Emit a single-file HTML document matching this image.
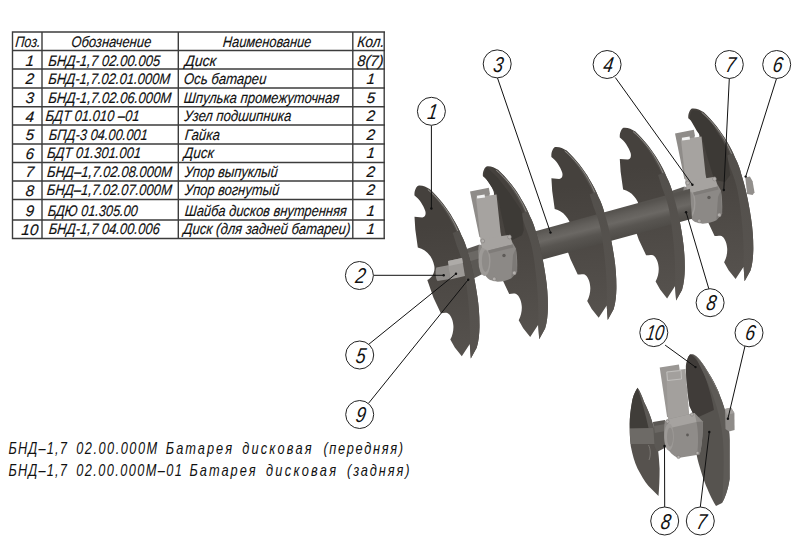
<!DOCTYPE html>
<html><head><meta charset="utf-8">
<style>
html,body{margin:0;padding:0;background:#fff;width:796px;height:543px;overflow:hidden}
svg{position:absolute;left:0;top:0;display:block}
text{font-family:"Liberation Sans",sans-serif;fill:#111}
.ti{font-style:italic;stroke:#111;stroke-width:0.15px}
.cap{font-style:italic}
.bn{font-style:italic}
</style></head><body>
<svg width="796" height="543" viewBox="0 0 796 543">
<path d="M12 32H385 M12 50.5H385 M12 69H385 M12 88H385 M12 106.7H385 M12 125H385 M12 144H385 M12 162.5H385 M12 181H385 M12 199.5H385 M12 220H385 M12 238.5H385 M12.5 31.3V239.2 M42 31.3V239.2 M178.3 31.3V239.2 M352.8 31.3V239.2 M384.2 31.3V239.2" stroke="#3c3c3c" stroke-width="1.4" fill="none"/>
<g transform="translate(15,46.7) skewX(-5)"><text class="ti" x="0" y="0" font-size="15.3" textLength="25.3" lengthAdjust="spacingAndGlyphs">Поз.</text></g>
<g transform="translate(71,46.7) skewX(-5)"><text class="ti" x="0" y="0" font-size="15.3" textLength="80" lengthAdjust="spacingAndGlyphs">Обозначение</text></g>
<g transform="translate(222.5,46.7) skewX(-5)"><text class="ti" x="0" y="0" font-size="15.3" textLength="88.5" lengthAdjust="spacingAndGlyphs">Наименование</text></g>
<g transform="translate(357,46.7) skewX(-5)"><text class="ti" x="0" y="0" font-size="15.3" textLength="27" lengthAdjust="spacingAndGlyphs">Кол.</text></g>
<g transform="translate(29.6,65.7) skewX(-5)"><text class="ti" x="0" y="0" font-size="15.3" text-anchor="middle">1</text></g>
<g transform="translate(47.9,66) skewX(-5)"><text class="ti" x="0" y="0" font-size="15.3" textLength="112" lengthAdjust="spacingAndGlyphs">БНД-1,7 02.00.005</text></g>
<g transform="translate(184.5,66) skewX(-5)"><text class="ti" x="0" y="0" font-size="15.3" textLength="31.5" lengthAdjust="spacingAndGlyphs">Диск</text></g>
<g transform="translate(357,66) skewX(-5)"><text class="ti" x="0" y="0" font-size="15.3" textLength="26" lengthAdjust="spacingAndGlyphs">8(7)</text></g>
<g transform="translate(29.6,84.1) skewX(-5)"><text class="ti" x="0" y="0" font-size="15.3" text-anchor="middle">2</text></g>
<g transform="translate(47.9,83.8) skewX(-5)"><text class="ti" x="0" y="0" font-size="15.3" textLength="122" lengthAdjust="spacingAndGlyphs">БНД-1,7.02.01.000М</text></g>
<g transform="translate(183.5,83.8) skewX(-5)"><text class="ti" x="0" y="0" font-size="15.3" textLength="82.5" lengthAdjust="spacingAndGlyphs">Ось батареи</text></g>
<g transform="translate(370.5,83.8) skewX(-5)"><text class="ti" x="0" y="0" font-size="15.3" text-anchor="middle">1</text></g>
<g transform="translate(29.6,102.5) skewX(-5)"><text class="ti" x="0" y="0" font-size="15.3" text-anchor="middle">3</text></g>
<g transform="translate(47.9,102.5) skewX(-5)"><text class="ti" x="0" y="0" font-size="15.3" textLength="123" lengthAdjust="spacingAndGlyphs">БНД-1,7.02.06.000М</text></g>
<g transform="translate(183.5,102.5) skewX(-5)"><text class="ti" x="0" y="0" font-size="15.3" textLength="155.5" lengthAdjust="spacingAndGlyphs">Шпулька промежуточная</text></g>
<g transform="translate(370.5,102.5) skewX(-5)"><text class="ti" x="0" y="0" font-size="15.3" text-anchor="middle">5</text></g>
<g transform="translate(29.6,121.6) skewX(-5)"><text class="ti" x="0" y="0" font-size="15.3" text-anchor="middle">4</text></g>
<g transform="translate(45.3,121.4) skewX(-5)"><text class="ti" x="0" y="0" font-size="15.3" textLength="94" lengthAdjust="spacingAndGlyphs">БДТ 01.010 –01</text></g>
<g transform="translate(184,121.4) skewX(-5)"><text class="ti" x="0" y="0" font-size="15.3" textLength="107" lengthAdjust="spacingAndGlyphs">Узел подшипника</text></g>
<g transform="translate(370.5,121.4) skewX(-5)"><text class="ti" x="0" y="0" font-size="15.3" text-anchor="middle">2</text></g>
<g transform="translate(29.6,140) skewX(-5)"><text class="ti" x="0" y="0" font-size="15.3" text-anchor="middle">5</text></g>
<g transform="translate(48.4,139.6) skewX(-5)"><text class="ti" x="0" y="0" font-size="15.3" textLength="99" lengthAdjust="spacingAndGlyphs">БПД-3 04.00.001</text></g>
<g transform="translate(184.5,139.6) skewX(-5)"><text class="ti" x="0" y="0" font-size="15.3" textLength="35" lengthAdjust="spacingAndGlyphs">Гайка</text></g>
<g transform="translate(370.5,139.6) skewX(-5)"><text class="ti" x="0" y="0" font-size="15.3" text-anchor="middle">2</text></g>
<g transform="translate(29.6,158.9) skewX(-5)"><text class="ti" x="0" y="0" font-size="15.3" text-anchor="middle">6</text></g>
<g transform="translate(46.7,157.5) skewX(-5)"><text class="ti" x="0" y="0" font-size="15.3" textLength="94" lengthAdjust="spacingAndGlyphs">БДТ  01.301.001</text></g>
<g transform="translate(183.5,157.5) skewX(-5)"><text class="ti" x="0" y="0" font-size="15.3" textLength="30" lengthAdjust="spacingAndGlyphs">Диск</text></g>
<g transform="translate(370.5,157.5) skewX(-5)"><text class="ti" x="0" y="0" font-size="15.3" text-anchor="middle">1</text></g>
<g transform="translate(29.6,176.8) skewX(-5)"><text class="ti" x="0" y="0" font-size="15.3" text-anchor="middle">7</text></g>
<g transform="translate(46.7,176.8) skewX(-5)"><text class="ti" x="0" y="0" font-size="15.3" textLength="125" lengthAdjust="spacingAndGlyphs">БНД–1,7.02.08.000М</text></g>
<g transform="translate(184.5,176.8) skewX(-5)"><text class="ti" x="0" y="0" font-size="15.3" textLength="93" lengthAdjust="spacingAndGlyphs">Упор выпуклый</text></g>
<g transform="translate(370.5,176.8) skewX(-5)"><text class="ti" x="0" y="0" font-size="15.3" text-anchor="middle">2</text></g>
<g transform="translate(29.6,195.7) skewX(-5)"><text class="ti" x="0" y="0" font-size="15.3" text-anchor="middle">8</text></g>
<g transform="translate(46.5,194.8) skewX(-5)"><text class="ti" x="0" y="0" font-size="15.3" textLength="125" lengthAdjust="spacingAndGlyphs">БНД–1,7.02.07.000М</text></g>
<g transform="translate(184.5,194.8) skewX(-5)"><text class="ti" x="0" y="0" font-size="15.3" textLength="94.5" lengthAdjust="spacingAndGlyphs">Упор вогнутый</text></g>
<g transform="translate(370.5,194.8) skewX(-5)"><text class="ti" x="0" y="0" font-size="15.3" text-anchor="middle">2</text></g>
<g transform="translate(29.6,215.9) skewX(-5)"><text class="ti" x="0" y="0" font-size="15.3" text-anchor="middle">9</text></g>
<g transform="translate(47.4,215.6) skewX(-5)"><text class="ti" x="0" y="0" font-size="15.3" textLength="90" lengthAdjust="spacingAndGlyphs">БДЮ  01.305.00</text></g>
<g transform="translate(184.5,215.6) skewX(-5)"><text class="ti" x="0" y="0" font-size="15.3" textLength="162" lengthAdjust="spacingAndGlyphs">Шайба дисков внутренняя</text></g>
<g transform="translate(370.5,215.6) skewX(-5)"><text class="ti" x="0" y="0" font-size="15.3" text-anchor="middle">1</text></g>
<g transform="translate(29.5,234.7) skewX(-5)"><text class="ti" x="0" y="0" font-size="15.3" text-anchor="middle">10</text></g>
<g transform="translate(48.4,234) skewX(-5)"><text class="ti" x="0" y="0" font-size="15.3" textLength="111" lengthAdjust="spacingAndGlyphs">БНД-1,7 04.00.006</text></g>
<g transform="translate(183,234) skewX(-5)"><text class="ti" x="0" y="0" font-size="15.3" textLength="167" lengthAdjust="spacingAndGlyphs">Диск (для задней батареи)</text></g>
<g transform="translate(370.5,234) skewX(-5)"><text class="ti" x="0" y="0" font-size="15.3" text-anchor="middle">1</text></g>
<g transform="scale(0.8,1)">
<text class="cap" x="10.62" y="454.0" font-size="16" textLength="72.88" lengthAdjust="spacing">БНД–1,7</text>
<text class="cap" x="95.25" y="454.0" font-size="16" textLength="101.25" lengthAdjust="spacing">02.00.000М</text>
<text class="cap" x="207.25" y="454.0" font-size="16" textLength="82.75" lengthAdjust="spacing">Батарея</text>
<text class="cap" x="302.87" y="454.0" font-size="16" textLength="86.50" lengthAdjust="spacing">дисковая</text>
<text class="cap" x="404.25" y="454.0" font-size="16" textLength="99.38" lengthAdjust="spacing">(передняя)</text>
<text class="cap" x="10.62" y="475.6" font-size="16" textLength="72.88" lengthAdjust="spacing">БНД–1,7</text>
<text class="cap" x="95.25" y="475.6" font-size="16" textLength="132.12" lengthAdjust="spacing">02.00.000М–01</text>
<text class="cap" x="236.88" y="475.6" font-size="16" textLength="82.75" lengthAdjust="spacing">Батарея</text>
<text class="cap" x="332.50" y="475.6" font-size="16" textLength="87.50" lengthAdjust="spacing">дисковая</text>
<text class="cap" x="433.75" y="475.6" font-size="16" textLength="78.12" lengthAdjust="spacing">(задняя)</text>
</g>
<defs>
<linearGradient id="dg" gradientUnits="userSpaceOnUse" x1="0" y1="40" x2="10" y2="165"><stop offset="0" stop-color="#45413d"/><stop offset="1" stop-color="#55514d"/></linearGradient>
<linearGradient id="rg" gradientUnits="userSpaceOnUse" x1="0" y1="20" x2="10" y2="165"><stop offset="0" stop-color="#524f4b"/><stop offset="1" stop-color="#57534f"/></linearGradient>
<path id="dk" d="M-3.8,9.5 C-4.3,5 -2,0.3 0,-0.3 C4,-0.8 8,1 11.3,3.1 C20,11 30,24 34,31.5 C38,38 41,44 43,49 C46,55 48,60 49.2,65.4 C51,71 53,78 54.2,84 C56,92 57.5,100 59,110 C60.5,120 61.3,130 61.2,141 C61,148 60.5,155 58.4,161.8 L52.5,172.5 L51.5,158 L43.5,170.3 L36.5,161.5 L32,153.5 C34.5,149 35.5,143 35,139 C34.5,133 32,128.5 29.5,127.2 C27,126.5 25,127 22.5,127.2 L15.2,111.7 L9,94 C14,92 17,86 16,80 C14.5,71 8,63.5 -0.5,61.5 L-3,43.5 L-3.8,30.8 L4,31.5 C6.5,31.5 8,29 7,25 C5,19 1,13 -3.8,9.5 Z" fill="url(#dg)"/>
<path id="rb" d="M11.3,3.1 C20,11 30,24 34,31.5 C38,38 41,44 43,49 C46,55 48,60 49.2,65.4 C51,71 53,78 54.2,84 C56,92 57.5,100 59,110 C60.5,120 61.3,130 61.2,141 C61,148 60.5,155 58.4,161.8 L52.5,172.5 L51.5,158 C52,145 51.5,125 48.6,102.6 C47.5,92 46,84 44.5,77.6 C42.5,70 40.5,65 38.4,59.5 L34.5,47 L38,45.5 C35,39 31,32 28,27 C24,20 17,11 9,3.5 Z" fill="url(#rg)"/>
<path id="hl" d="M9.5,3.5 C19,11.5 27,21.5 32.5,31 C35,35.5 37.5,40 39.5,45" stroke="#8e8b87" stroke-width="1" fill="none"/>
</defs>
<g transform="translate(692.1,108.8)"><use href="#dk"/><use href="#rb"/><use href="#hl"/></g>
<path d="M690,119 C690,114 691,111 692.6,110.3 C695,109.8 698,110.5 700.5,112 C704,116 709,120 712,124 C715,128 716,130 716.3,131.3 C720,137 723,141 725,145.3 C726.5,150 727.2,154 727.6,157.5 L730.3,175 L725,182 L716.3,180.3 L712.8,175 L707.5,157.5 L702.3,138.3 L697,131.3 Z" fill="#3c3935"/>
<g transform="translate(205,-58)">
<path d="M470,191.6 L488.8,187.8 L489.9,193.3 L482,238 L479.4,236.9 Z" fill="#8f8c89"/>
<path d="M476,197.2 L496.5,194.4 L500.5,232 L502,240 L481,244 Z" fill="#a6a3a0"/>
<path d="M476.8,195.8 L484.6,194.6 L485,197.6 L477.2,198.6 Z" fill="#f2f2f2"/>
<path d="M466.5,249 L479.5,244.5 L482.5,274 L471.5,279.5 Z" fill="#5b5854"/>
<path d="M467.5,253 L480,249.5 L480.8,258 L469,261.5 Z" fill="#6b6864"/>
<path d="M478.8,245.1 C477.5,252 478.5,262 482.8,271.4 C485,275 487,278 490,280 L497.7,281.7 C503,281.5 508,280 511.4,278.2 L517.1,271.4 C517.5,262 517,254 515.9,248.5 L511.4,240.6 Z" fill="#8c8986"/>
<ellipse cx="484.5" cy="261" rx="6" ry="15" fill="#9d9a97"/>
<ellipse cx="485.5" cy="261" rx="3.6" ry="11" fill="#8e8b88"/>
<path d="M480,239.4 L510.2,234.8 L512.5,244.5 L488,250.5 L482,247.5 Z" fill="#a6a3a0"/>
<path d="M488,250.5 L512.5,244.5 L513.5,247.5 L489,253.5 Z" fill="#7f7c79"/>
<path d="M515.9,248.5 L517.1,271.4 L511.4,278.2 L513,255 Z" fill="#7c7976"/>
<circle cx="482.8" cy="241" r="1.9" fill="#b2afac" stroke="#7a7774" stroke-width="0.5"/>
<circle cx="494.2" cy="279" r="1.9" fill="#b2afac" stroke="#7a7774" stroke-width="0.5"/>
<circle cx="514.3" cy="273" r="1.9" fill="#b2afac" stroke="#7a7774" stroke-width="0.5"/>
<circle cx="509.5" cy="237" r="1.9" fill="#b2afac" stroke="#7a7774" stroke-width="0.5"/>
<circle cx="504" cy="255.5" r="1.7" fill="#5e5b58"/>
</g>
<path d="M745.3,177.5 L749.9,176.6 L752.6,181.2 L754.5,192.2 L752.6,195 L747.1,194 Z" fill="#928f8c"/>
<g transform="translate(623.6,128.1)"><use href="#dk"/></g>
<g transform="translate(555.2,147.4)"><use href="#dk"/></g>
<linearGradient id="sg" gradientUnits="userSpaceOnUse" x1="600" y1="214.5" x2="607.5" y2="244.5"><stop offset="0" stop-color="#56534f"/><stop offset="0.2" stop-color="#63605c"/><stop offset="0.38" stop-color="#6b6864"/><stop offset="0.6" stop-color="#585551"/><stop offset="1" stop-color="#4b4844"/></linearGradient>
<path d="M520,235.4 L690,188.7 L692,218.7 L522,265.2 Z" fill="url(#sg)"/>
<g transform="translate(555.2,147.4)"><use href="#rb"/><use href="#hl"/></g>
<g transform="translate(623.6,128.1)"><use href="#rb"/><use href="#hl"/></g>
<g transform="translate(486.7,166.7)"><use href="#dk"/><use href="#rb"/><use href="#hl"/></g>
<path d="M484,175.8 L492.3,188 L497.5,195 L501,212.5 L506.3,237 L511.5,240.5 L522,235.3 L523.8,230 L522,212.5 L520.3,209 L509.8,193.3 L497.5,177.5 L486.5,167 Z" fill="#3d3a36"/>
<g transform="translate(0,0)">
<path d="M470,191.6 L488.8,187.8 L489.9,193.3 L482,238 L479.4,236.9 Z" fill="#8f8c89"/>
<path d="M476,197.2 L496.5,194.4 L500.5,232 L502,240 L481,244 Z" fill="#a6a3a0"/>
<path d="M476.8,195.8 L484.6,194.6 L485,197.6 L477.2,198.6 Z" fill="#f2f2f2"/>
<path d="M466.5,249 L479.5,244.5 L482.5,274 L471.5,279.5 Z" fill="#5b5854"/>
<path d="M467.5,253 L480,249.5 L480.8,258 L469,261.5 Z" fill="#6b6864"/>
<path d="M478.8,245.1 C477.5,252 478.5,262 482.8,271.4 C485,275 487,278 490,280 L497.7,281.7 C503,281.5 508,280 511.4,278.2 L517.1,271.4 C517.5,262 517,254 515.9,248.5 L511.4,240.6 Z" fill="#8c8986"/>
<ellipse cx="484.5" cy="261" rx="6" ry="15" fill="#9d9a97"/>
<ellipse cx="485.5" cy="261" rx="3.6" ry="11" fill="#8e8b88"/>
<path d="M480,239.4 L510.2,234.8 L512.5,244.5 L488,250.5 L482,247.5 Z" fill="#a6a3a0"/>
<path d="M488,250.5 L512.5,244.5 L513.5,247.5 L489,253.5 Z" fill="#7f7c79"/>
<path d="M515.9,248.5 L517.1,271.4 L511.4,278.2 L513,255 Z" fill="#7c7976"/>
<circle cx="482.8" cy="241" r="1.9" fill="#b2afac" stroke="#7a7774" stroke-width="0.5"/>
<circle cx="494.2" cy="279" r="1.9" fill="#b2afac" stroke="#7a7774" stroke-width="0.5"/>
<circle cx="514.3" cy="273" r="1.9" fill="#b2afac" stroke="#7a7774" stroke-width="0.5"/>
<circle cx="509.5" cy="237" r="1.9" fill="#b2afac" stroke="#7a7774" stroke-width="0.5"/>
<circle cx="504" cy="255.5" r="1.7" fill="#5e5b58"/>
</g>
<g transform="translate(418.3,186)"><use href="#dk"/><use href="#rb"/><use href="#hl"/></g>
<path d="M436.4,267.4 L449.3,265 L450,279 L437.5,281 C435.5,279 435,270 436.4,267.4 Z" fill="#8f8c89"/>
<path d="M448,261 L462,258 L465,276 L450,279.5 Z" fill="#9c9996"/>
<path d="M448,261 L462,258 L462.8,263 L449,266 Z" fill="#aeaba8"/>
<path d="M637.5,387.7 C634,393 632.5,398 632,402.1 C630.5,410 629.7,418 629.7,424.2 C629.5,432 630,440 630.8,446.3 C632.5,455 634.5,462 637.5,468.4 C641,475 644.5,481 648.5,486.1 L658.5,496 C659.2,488 659.6,478 659.6,468.4 C659,458 658.5,452 657.4,446.3 C656,436 654.5,430 652.9,424.2 C650,414 647,408 644.1,402.1 C642,396 640,391 637.5,387.7 Z" fill="#56524e"/>
<path d="M637.5,387.7 C634,393 632.5,398 632,402.1 C630.5,410 629.7,418 629.7,424.2 L629.8,428.6 L650,428 C647,415 641,398 637.5,387.7 Z" fill="#403d39"/>
<path d="M637.5,387.7 C640,391 642,396 644.1,402.1 C647,408 650,414 652.9,424.2 L653.5,428 L648.5,428 C645.5,414 641.5,400 637.5,387.7 Z" fill="#5c5955"/>
<path d="M629.8,428.6 L653.5,428 C655,434 656.5,440 657,444 L630.6,444.1 C630,438 629.7,433 629.8,428.6 Z" fill="#6d6a66"/>
<path d="M648.5,445 C650.5,449 651,455 649,460" stroke="#8a8783" stroke-width="0.7" fill="none"/>
<path d="M659.7,367.5 L678.9,364.6 L679.6,369 L668,417 L667.1,416.9 Z" fill="#9a9794"/>
<path d="M666.4,371.2 L685.5,369 L689.2,414 L690,420 L668,420 Z" fill="#a3a09d"/>
<path d="M666.8,372 L681,370.5 L681.5,379 L667.5,380.5 Z" fill="none" stroke="#c8c6c4" stroke-width="0.8"/>
<path d="M690,354.6 C692,354 694,354.5 694.7,355.3 C699,357.5 705,367 711,377 C715,384 718,390 720,396 C723,403 725,410 726.5,416 C728.5,424 729.4,432 729.6,440 L729.6,479 C728,490 725,498 722,503 L716,506 C711,498 708,490 706,485.8 C701,472 698,462 696.2,452.7 L694.7,418 C692.5,412 690.5,408 689.6,406.3 C688.5,398 687.5,392 687.5,389.2 C686.5,380 686,374 685.9,368.6 C685.7,365 686,364 686.6,362.7 C687.5,358 688.5,356 690,354.6 Z" fill="#56534f"/>
<path d="M686.6,362.7 C687.5,358 688.5,356 690,354.6 C693,355 697,360 701,367 C705,375 709,388 711,396 C712.5,402 713.5,407 713.9,409.9 L694.7,418.7 C692.5,412 690.5,408 689.6,406.3 C688.5,398 687.5,392 687.5,389.2 C686.5,380 686,374 685.9,368.6 Z" fill="#403c39"/>
<path d="M694.7,355.3 C699,357.5 705,367 711,377 C715,384 718,390 720,396 C723,403 725,410 726.5,416 C728.5,424 729.4,432 729.6,440 L729.6,479 C728,490 725,498 722,503 C723,490 724,470 723.5,450 C723,432 720,418 716,405 C712,392 706,378 700,366 C698,362 696.5,358 694.7,355.3 Z" fill="#5e5b57"/>
<path d="M694.7,355.3 C699,357.5 705,367 711,377 C715,384 718,390 720,396 C718,392 712,380 706,370 C702,363 698,358 694.7,355.3 Z" fill="#7a7773"/>
<path d="M653,422 L665,420 L666.5,447 L657,452 L654.5,446 Z" fill="#5b5854"/>
<path d="M654,426 L665.2,424 L665.6,431 L654.8,433 Z" fill="#6a6763"/>
<path d="M664.8,421.4 C663.5,430 664,440 666.4,446.3 C669,452 673,456 678,457.9 L699.6,454.6 C701.5,448 703,435 702.9,421.4 L694.6,413.1 L666.4,419.8 Z" fill="#8f8c89"/>
<path d="M666.4,419.8 L694.6,413.1 L696.5,422 L670,428 Z" fill="#a6a3a0"/>
<ellipse cx="669" cy="437" rx="4.8" ry="13.5" fill="#9d9a97"/>
<ellipse cx="670" cy="437" rx="3" ry="9.5" fill="#8e8b88"/>
<path d="M696.5,422 L702.9,421.4 C703,435 701.5,448 699.6,454.6 L697,455 C698.5,445 698.5,432 696.5,422 Z" fill="#7c7976"/>
<circle cx="667.5" cy="421.5" r="1.6" fill="#b2afac" stroke="#7a7774" stroke-width="0.5"/>
<circle cx="678.5" cy="457" r="1.6" fill="#b2afac" stroke="#7a7774" stroke-width="0.5"/>
<circle cx="697.5" cy="453" r="1.6" fill="#b2afac" stroke="#7a7774" stroke-width="0.5"/>
<circle cx="692" cy="414.5" r="1.6" fill="#b2afac" stroke="#7a7774" stroke-width="0.5"/>
<circle cx="687.5" cy="435" r="1.4" fill="#5e5b58"/>
<path d="M725,409 L731,407.5 L734.4,413 L734.6,430 L729,431.5 L725.5,429 Z" fill="#8f8c89"/>
<path d="M725,409 L731,407.5 L734.4,413 L727,415 Z" fill="#a3a09d"/>
<path d="M431.4,125.5 L431.4,208.5" stroke="#111" stroke-width="1" fill="none"/>
<circle cx="431.4" cy="208.5" r="1.2" fill="#111"/>
<path d="M497.5,78 L550.5,232.6" stroke="#111" stroke-width="1" fill="none"/>
<circle cx="550.5" cy="232.6" r="1.2" fill="#111"/>
<path d="M615.3,77.5 L692.4,184.8" stroke="#111" stroke-width="1" fill="none"/>
<circle cx="692.4" cy="184.8" r="1.2" fill="#111"/>
<path d="M729.3,78.6 L723.8,190" stroke="#111" stroke-width="1" fill="none"/>
<circle cx="723.8" cy="190" r="1.2" fill="#111"/>
<path d="M776.5,78.6 L745.7,176.6" stroke="#111" stroke-width="1" fill="none"/>
<circle cx="745.7" cy="176.6" r="1.2" fill="#111"/>
<path d="M373.5,275.3 L443.7,275.3" stroke="#111" stroke-width="1" fill="none"/>
<circle cx="443.7" cy="275.3" r="1.2" fill="#111"/>
<path d="M368.5,344.5 L456,273.8" stroke="#111" stroke-width="1" fill="none"/>
<circle cx="456" cy="273.8" r="1.2" fill="#111"/>
<path d="M368.5,403.3 L468.2,279.7" stroke="#111" stroke-width="1" fill="none"/>
<circle cx="468.2" cy="279.7" r="1.2" fill="#111"/>
<path d="M708.9,289 L686.1,212.2" stroke="#111" stroke-width="1" fill="none"/>
<circle cx="686.1" cy="212.2" r="1.2" fill="#111"/>
<path d="M665.1,345.1 L695.5,367.1" stroke="#111" stroke-width="1" fill="none"/>
<circle cx="695.5" cy="367.1" r="1.2" fill="#111"/>
<path d="M745,346 L727.9,418.7" stroke="#111" stroke-width="1" fill="none"/>
<circle cx="727.9" cy="418.7" r="1.2" fill="#111"/>
<path d="M664.7,507 L664.5,446" stroke="#111" stroke-width="1" fill="none"/>
<circle cx="664.5" cy="446" r="1.2" fill="#111"/>
<path d="M700.3,507 L709.3,432" stroke="#111" stroke-width="1" fill="none"/>
<circle cx="709.3" cy="432" r="1.2" fill="#111"/>
<circle cx="431.4" cy="111.3" r="14" fill="#fff" stroke="#222" stroke-width="1"/>
<g transform="translate(431.7,118.89999999999999) skewX(-9) scale(0.82,1)"><text class="bn" x="0" y="0" font-size="21.5" text-anchor="middle">1</text></g>
<circle cx="497.2" cy="63.9" r="14" fill="#fff" stroke="#222" stroke-width="1"/>
<g transform="translate(497.5,71.5) skewX(-9) scale(0.82,1)"><text class="bn" x="0" y="0" font-size="21.5" text-anchor="middle">3</text></g>
<circle cx="607.1" cy="64.5" r="14" fill="#fff" stroke="#222" stroke-width="1"/>
<g transform="translate(607.4,72.1) skewX(-9) scale(0.82,1)"><text class="bn" x="0" y="0" font-size="21.5" text-anchor="middle">4</text></g>
<circle cx="729.3" cy="64.5" r="14" fill="#fff" stroke="#222" stroke-width="1"/>
<g transform="translate(729.5999999999999,72.1) skewX(-9) scale(0.82,1)"><text class="bn" x="0" y="0" font-size="21.5" text-anchor="middle">7</text></g>
<circle cx="776.7" cy="64.5" r="14" fill="#fff" stroke="#222" stroke-width="1"/>
<g transform="translate(777.0,72.1) skewX(-9) scale(0.82,1)"><text class="bn" x="0" y="0" font-size="21.5" text-anchor="middle">6</text></g>
<circle cx="359.4" cy="275.5" r="14" fill="#fff" stroke="#222" stroke-width="1"/>
<g transform="translate(359.7,283.1) skewX(-9) scale(0.82,1)"><text class="bn" x="0" y="0" font-size="21.5" text-anchor="middle">2</text></g>
<circle cx="359.7" cy="355" r="14" fill="#fff" stroke="#222" stroke-width="1"/>
<g transform="translate(360.0,362.6) skewX(-9) scale(0.82,1)"><text class="bn" x="0" y="0" font-size="21.5" text-anchor="middle">5</text></g>
<circle cx="359.7" cy="414.5" r="14" fill="#fff" stroke="#222" stroke-width="1"/>
<g transform="translate(360.0,422.1) skewX(-9) scale(0.82,1)"><text class="bn" x="0" y="0" font-size="21.5" text-anchor="middle">9</text></g>
<circle cx="710.1" cy="302.7" r="14" fill="#fff" stroke="#222" stroke-width="1"/>
<g transform="translate(710.4,310.3) skewX(-9) scale(0.82,1)"><text class="bn" x="0" y="0" font-size="21.5" text-anchor="middle">8</text></g>
<circle cx="653.8" cy="332.6" r="14" fill="#fff" stroke="#222" stroke-width="1"/>
<g transform="translate(654.0999999999999,340.20000000000005) skewX(-9) scale(0.75,1)"><text class="bn" x="0" y="0" font-size="21.5" text-anchor="middle">10</text></g>
<circle cx="749" cy="332.8" r="14" fill="#fff" stroke="#222" stroke-width="1"/>
<g transform="translate(749.3,340.40000000000003) skewX(-9) scale(0.82,1)"><text class="bn" x="0" y="0" font-size="21.5" text-anchor="middle">6</text></g>
<circle cx="664.7" cy="521" r="14" fill="#fff" stroke="#222" stroke-width="1"/>
<g transform="translate(665.0,528.6) skewX(-9) scale(0.82,1)"><text class="bn" x="0" y="0" font-size="21.5" text-anchor="middle">8</text></g>
<circle cx="700.3" cy="521" r="14" fill="#fff" stroke="#222" stroke-width="1"/>
<g transform="translate(700.5999999999999,528.6) skewX(-9) scale(0.82,1)"><text class="bn" x="0" y="0" font-size="21.5" text-anchor="middle">7</text></g>
</svg>
</body></html>
